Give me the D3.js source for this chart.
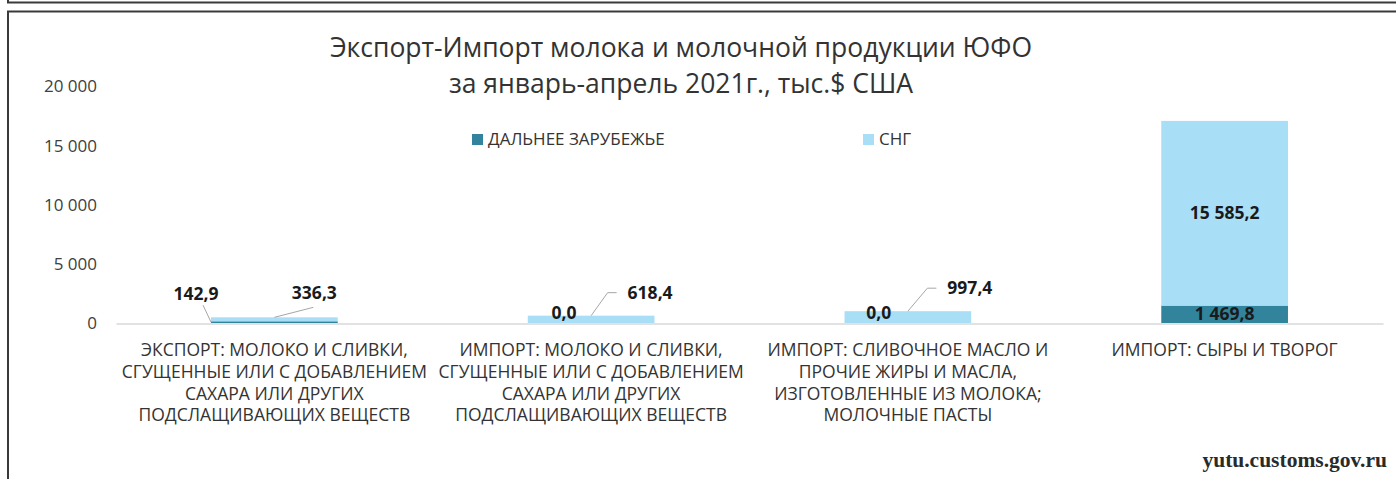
<!DOCTYPE html>
<html><head><meta charset="utf-8">
<script src="https://cdn.jsdelivr.net/npm/d3@7"></script>
<style>
html,body{margin:0;padding:0;background:#fff;overflow:hidden;}
svg{display:block;}
</style></head>
<body>
<svg id="chart" width="1396" height="479"></svg>
<script>
const categories = [
  "ЭКСПОРТ: МОЛОКО И СЛИВКИ, СГУЩЕННЫЕ ИЛИ С ДОБАВЛЕНИЕМ САХАРА ИЛИ ДРУГИХ ПОДСЛАЩИВАЮЩИХ ВЕЩЕСТВ",
  "ИМПОРТ: МОЛОКО И СЛИВКИ, СГУЩЕННЫЕ ИЛИ С ДОБАВЛЕНИЕМ САХАРА ИЛИ ДРУГИХ ПОДСЛАЩИВАЮЩИХ ВЕЩЕСТВ",
  "ИМПОРТ: СЛИВОЧНОЕ МАСЛО И ПРОЧИЕ ЖИРЫ И МАСЛА, ИЗГОТОВЛЕННЫЕ ИЗ МОЛОКА; МОЛОЧНЫЕ ПАСТЫ",
  "ИМПОРТ: СЫРЫ И ТВОРОГ"
];
const seriesNames = ["ДАЛЬНЕЕ ЗАРУБЕЖЬЕ", "СНГ"];
const farAbroad = [142.9, 0.0, 0.0, 1469.8];
const cis = [336.3, 618.4, 997.4, 15585.2];
const yTicks = [0, 5000, 10000, 15000, 20000];
const titleLines = ["Экспорт-Импорт молока и молочной продукции ЮФО", "за январь-апрель 2021г., тыс.$ США"];
const sourceText = "yutu.customs.gov.ru";

// styling / layout
const colors = ["#31849B", "#A9DEF7"];
const font = "'Open Sans', 'Noto Sans', sans-serif";
const svg = d3.select("#chart");
const plot = {left: 116, right: 1383, top: 86, bottom: 323};

const ru = d3.formatLocale({decimal: ",", thousands: "\u00a0", grouping: [3], currency: ["", ""]});
const fmtVal = ru.format(",.1f");
const fmtTick = ru.format(",d");

const x = d3.scaleBand().domain(categories).range([plot.left, plot.right]).padding(0);
const y = d3.scaleLinear().domain([0, 20000]).range([plot.bottom, plot.top]);
const barW = x.bandwidth() * 0.4;

// frame
svg.append("path").attr("d", "M8,-2 V2.5 H1410").attr("fill", "none").attr("stroke", "#3a3a3a").attr("stroke-width", 2);
svg.append("rect").attr("x", 8).attr("y", 11.5).attr("width", 1500).attr("height", 600)
  .attr("fill", "none").attr("stroke", "#3a3a3a").attr("stroke-width", 2);

// title
svg.append("text").attr("x", 681).attr("y", 57).attr("text-anchor", "middle")
  .attr("font-family", font).attr("font-size", 26.5).attr("fill", "#333333").text(titleLines[0]);
svg.append("text").attr("x", 681).attr("y", 93).attr("text-anchor", "middle")
  .attr("font-family", font).attr("font-size", 26.5).attr("fill", "#333333").text(titleLines[1]);

// y axis (labels only)
const yAxis = d3.axisLeft(y).tickValues(yTicks).tickSize(0).tickPadding(0).tickFormat(fmtTick);
const yg = svg.append("g").attr("transform", "translate(97,0)").call(yAxis);
yg.select(".domain").remove();
yg.selectAll("text").attr("font-family", font).attr("font-size", 17).attr("fill", "#404040").attr("dy", "0.35em");

// stacked data
const rows = categories.map((c, i) => ({cat: c, far: farAbroad[i], cis: cis[i]}));
const stack = d3.stack().keys(["far", "cis"])(rows);

stack.forEach((s, si) => {
  svg.append("g").selectAll("rect").data(s).join("rect")
    .attr("x", d => x(d.data.cat) + (x.bandwidth() - barW) / 2)
    .attr("width", barW)
    .attr("y", d => y(d[1]))
    .attr("height", d => y(d[0]) - y(d[1]))
    .attr("fill", colors[si]);
});

// x axis line
const xAxis = d3.axisBottom(x).tickSize(0).tickFormat("");
const xg = svg.append("g").attr("transform", `translate(0,${plot.bottom + 0.5})`).call(xAxis);
xg.select(".domain").attr("stroke", "#D9D9D9").attr("stroke-width", 1.3);
xg.selectAll(".tick").remove();

// category labels (wrapped)
const catSize = 17.5;
const catG = svg.append("g");
categories.forEach(c => {
  const cx = x(c) + x.bandwidth() / 2;
  const t = catG.append("text").attr("font-family", font).attr("font-size", catSize)
    .attr("fill", "#333333").attr("text-anchor", "middle");
  const words = c.split(" ");
  let lines = [], cur = "";
  const probe = catG.append("text").attr("font-family", font).attr("font-size", catSize);
  words.forEach(w => {
    const trial = cur ? cur + " " + w : w;
    probe.text(trial);
    if (probe.node().getComputedTextLength() > 312 && cur) { lines.push(cur); cur = w; }
    else cur = trial;
  });
  lines.push(cur);
  probe.remove();
  lines.forEach((l, li) => {
    t.append("tspan").attr("x", cx).attr("y", 356 + li * 21.8).text(l);
  });
});

// data labels: placement styles per series/category
const labelStyle = [
  [ {ax: -0.5, ay: "mid", dx: -15, dy: -28, leader: true},
    {ax: 0, ay: "mid", dx: 0, dy: 0, leader: false, dyZero: -10, dxZero: -27},
    {ax: 0, ay: "mid", dx: 0, dy: 0, leader: false, dyZero: -10, dxZero: -29},
    {ax: 0, ay: "mid", dx: 0, dy: 0, leader: false} ],
  [ {ax: 0, ay: "top", dx: 40, dy: -24, leader: true},
    {ax: 0, ay: "top", dx: 59, dy: -23, leader: true, elbow: true},
    {ax: 0, ay: "top", dx: 62, dy: -23, leader: true, elbow: true},
    {ax: 0, ay: "mid", dx: 0, dy: 0, leader: false} ]
];

const lblG = svg.append("g");
stack.forEach((s, si) => {
  s.forEach((d, ci) => {
    const st = labelStyle[si][ci];
    const bx = x(d.data.cat) + x.bandwidth() / 2 + st.ax * barW;
    const by = st.ay === "top" ? y(d[1]) : (y(d[0]) + y(d[1])) / 2;
    const val = d[1] - d[0];
    let lx = bx + st.dx, ly = by + st.dy;
    if (val === 0) { lx = bx + (st.dxZero || 0); ly = by + (st.dyZero || 0); }
    const txt = lblG.append("text").attr("x", lx).attr("y", ly).attr("dy", "0.35em")
      .attr("text-anchor", "middle").attr("font-family", font).attr("font-size", 17.5)
      .attr("font-weight", "bold").attr("fill", "#1a1a1a").text(fmtVal(val));
    if (st.leader) {
      const w = txt.node().getComputedTextLength();
      let pts;
      if (st.elbow) {
        const sx = lx - w / 2 - 11;
        pts = [[sx, ly], [sx - 9, ly], [bx, by]];
      } else if (st.dx < 0) {
        pts = [[lx + 7, ly + 11], [bx, by]];
      } else {
        pts = [[lx - 1, ly + 14], [bx, by]];
      }
      lblG.append("path").attr("d", d3.line()(pts)).attr("fill", "none")
        .attr("stroke", "#A6A6A6").attr("stroke-width", 1);
    }
  });
});

// legend
const legend = [{name: seriesNames[0], x: 472, c: colors[0]}, {name: seriesNames[1], x: 863, c: colors[1]}];
legend.forEach(l => {
  svg.append("rect").attr("x", l.x).attr("y", 134).attr("width", 11).attr("height", 11).attr("fill", l.c);
  svg.append("text").attr("x", l.x + 16).attr("y", 139.5).attr("dy", "0.35em")
    .attr("font-family", font).attr("font-size", 17).attr("fill", "#333333").text(l.name);
});

// source
svg.append("text").attr("x", 1387).attr("y", 467).attr("text-anchor", "end")
  .attr("font-family", "'Liberation Serif', 'DejaVu Serif', serif").attr("font-size", 21.5)
  .attr("font-weight", "bold").attr("fill", "#2a2a2a").text(sourceText);
</script>
</body></html>
